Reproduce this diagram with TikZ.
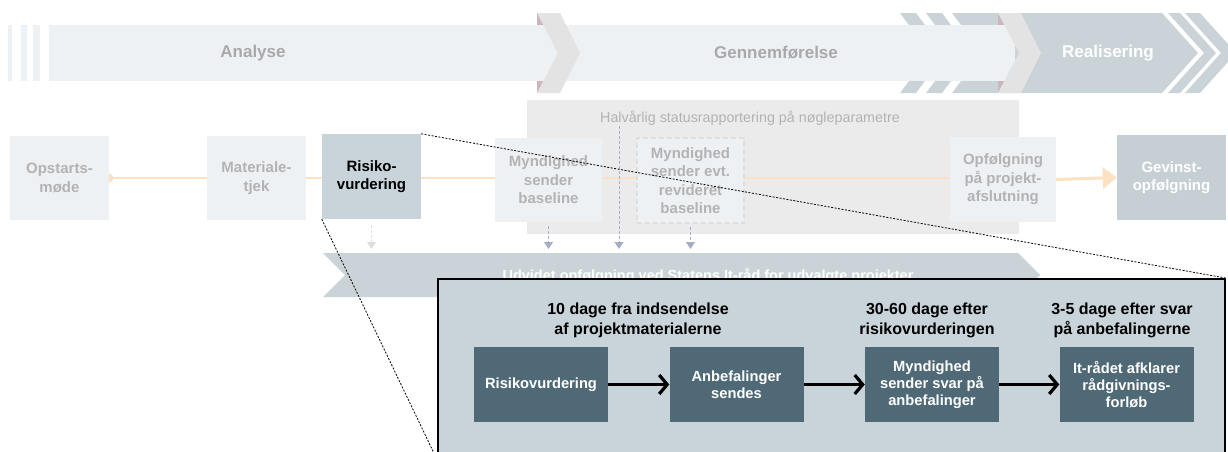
\documentclass[tikz,border=0pt]{standalone}
\usepackage{fontspec}
\setmainfont{Liberation Sans}
\usetikzlibrary{arrows.meta}
\definecolor{isblaa}{HTML}{EEF1F4}
\definecolor{chevgraa}{HTML}{E3E3E3}
\definecolor{rosa}{HTML}{CDB5BC}
\definecolor{realblaa}{HTML}{CAD3D7}
\definecolor{statusgraa}{HTML}{EBEBEB}
\definecolor{orangelys}{HTML}{FCE1C2}
\definecolor{tekstgraa}{HTML}{B3B3B3}
\definecolor{fasegraa}{HTML}{A9A9A9}
\definecolor{risikoblaa}{HTML}{C8D4DA}
\definecolor{gevinstblaa}{HTML}{C6D0D4}
\definecolor{mork}{HTML}{4F6A76}
\definecolor{lilla}{HTML}{A7ADC4}
\definecolor{lilagraa}{HTML}{DEDEDE}

\begin{document}
\begin{tikzpicture}[x=1pt,y=-1pt,
  lysboks/.style={fill=isblaa, text=tekstgraa, align=center, inner sep=0,
    font=\bfseries\fontsize{15}{18.5}\selectfont},
  indre/.style={fill=mork, text=white, align=center, inner sep=0,
    minimum width=134, minimum height=75, font=\bfseries\fontsize{14.7}{17}\selectfont},
  frist/.style={align=center, inner sep=0, font=\bfseries\fontsize{16}{20}\selectfont},
  pil/.style={line width=3.2, -{Straight Barb[length=8pt,width=19pt]}},
  streg/.style={lilla, line width=1, dash pattern=on 3pt off 2pt, -{Triangle[length=7pt,width=9pt]}},
  zoomstreg/.style={black, line width=0.8, dash pattern=on 2pt off 1.5pt}]
  \useasboundingbox (0,0) rectangle (1228,451);

  % Faser
  \fill[realblaa] (900,13) -- (916,13) -- (946,53) -- (916,93) -- (900,93) -- (930,53) -- cycle;
  \fill[realblaa] (926,13) -- (942,13) -- (972,53) -- (942,93) -- (926,93) -- (956,53) -- cycle;
  \fill[realblaa] (952,13) -- (1162,13) -- (1198,53) -- (1162,93) -- (952,93) -- (982,53) -- cycle;
  \fill[realblaa] (1168,13) -- (1180,13) -- (1216,53) -- (1180,93) -- (1168,93) -- (1204,53) -- cycle;
  \fill[realblaa] (1185,13) -- (1200,13) -- (1236,53) -- (1200,93) -- (1185,93) -- (1221,53) -- cycle;
  \fill[rosa] (537,13) rectangle (547,93);
  \fill[rosa] (998,13) rectangle (1008,93);
  \fill[isblaa] (49,25) rectangle (1015,81);
  \foreach \a/\b in {8/12,21/27,33/40}
    \fill[isblaa] (\a,25) rectangle (\b,81);
  \foreach \c in {537,998}
    \fill[chevgraa] (\c,13) -- ++(23,0) -- ++(20,40) -- ++(-20,40) -- ++(-23,0) -- ++(21,-40) -- cycle;
  \node[fasegraa, font=\bfseries\fontsize{17}{20}\selectfont] (analyse) at (253,53) {Analyse};
  \node[fasegraa, font=\bfseries\fontsize{17}{20}\selectfont] (gennem) at (776,53) {Gennemførelse};
  \node[white, font=\bfseries\fontsize{17}{20}\selectfont] (real) at (1108,53) {Realisering};

  % Statusrapportering
  \fill[statusgraa] (527,100) rectangle (1019,234);
  \node[tekstgraa, font=\fontsize{14.3}{17}\selectfont] (halv) at (750,118) {Halvårlig statusrapportering på nøgleparametre};

  % Tidslinje
  \draw[orangelys, line width=2] (109,178) -- (950,178);
  \fill[orangelys] (109,178) circle (4.5);
  \node[lysboks, minimum width=99, minimum height=84] (opstart) at (59.5,178) {Opstarts-\\møde};
  \node[lysboks, minimum width=99, minimum height=84] (materiale) at (256.5,178) {Materiale-\\tjek};
  \node[lysboks, fill=risikoblaa, text=black, minimum width=99, minimum height=85] (risiko) at (371.5,176.5) {Risiko-\\vurdering};
  \node[lysboks, minimum width=107, minimum height=84] (baseline) at (548.5,180) {Myndighed\\sender\\baseline};
  \node[lysboks, draw=lilagraa, line width=1.6, dash pattern=on 5pt off 3pt, minimum width=107, minimum height=85] (revideret) at (690.5,180.5) {Myndighed\\sender evt.\\revideret\\baseline};
  \node[lysboks, minimum width=106, minimum height=85] (opfolg) at (1003,179.5) {Opfølgning\\på projekt-\\afslutning};
  \node[lysboks, fill=gevinstblaa, text=white, minimum width=109, minimum height=85] (gevinst) at (1171.5,177.5) {Gevinst-\\opfølgning};
  \draw[orangelys, line width=3, -{Triangle[length=14pt,width=21pt]}] (opfolg.east) -- (gevinst.west);

  % Nedadgaaende pile
  \coordinate (bantop) at (0,249);
  \coordinate (halvned) at (619,126);
  \draw[streg, lilagraa] ([yshift=-6]risiko.south) -- (risiko.south |- bantop);
  \draw[streg] ([yshift=-4]baseline.south) -- (baseline.south |- bantop);
  \draw[streg] (halvned) -- (halvned |- bantop);
  \draw[streg] ([yshift=-3]revideret.south) -- (revideret.south |- bantop);

  % Udvidet opfoelgning
  \fill[realblaa] (323,253) -- (1018,253) -- (1040,275) -- (1018,297) -- (323,297) -- (345,275) -- cycle;
  \node[white, anchor=base, inner sep=0, font=\bfseries\fontsize{14.5}{17}\selectfont] (udvidet) at (708,280) {Udvidet opfølgning ved Statens It-råd for udvalgte projekter};

  % Forloeb
  \node[fill=risikoblaa, draw=black, line width=1.5, minimum width=787, minimum height=180, anchor=north west, inner sep=0] (zoom) at (437,278) {};
  \node[frist] (frist1) at (638,320) {10 dage fra indsendelse\\af projektmaterialerne};
  \node[frist] (frist2) at (927,320) {30-60 dage efter\\risikovurderingen};
  \node[frist] (frist3) at (1122,320) {3-5 dage efter svar\\på anbefalingerne};
  \node[indre] (rv) at (541,384.5) {Risikovurdering};
  \node[indre] (anbef) at (736.5,384.5) {Anbefalinger\\sendes};
  \node[indre] (svar) at (932,384.5) {Myndighed\\sender svar på\\anbefalinger};
  \node[indre] (itraad) at (1126.5,384.5) {It-rådet afklarer\\rådgivnings-\\forløb};
  \draw[pil] (rv) -- (anbef);
  \draw[pil] (anbef) -- (svar);
  \draw[pil] (svar) -- (itraad);

  % Zoom
  \draw[zoomstreg] (risiko.north east) -- (zoom.north east);
  \draw[zoomstreg] (risiko.south west) -- (zoom.south west);
\end{tikzpicture}
\end{document}
